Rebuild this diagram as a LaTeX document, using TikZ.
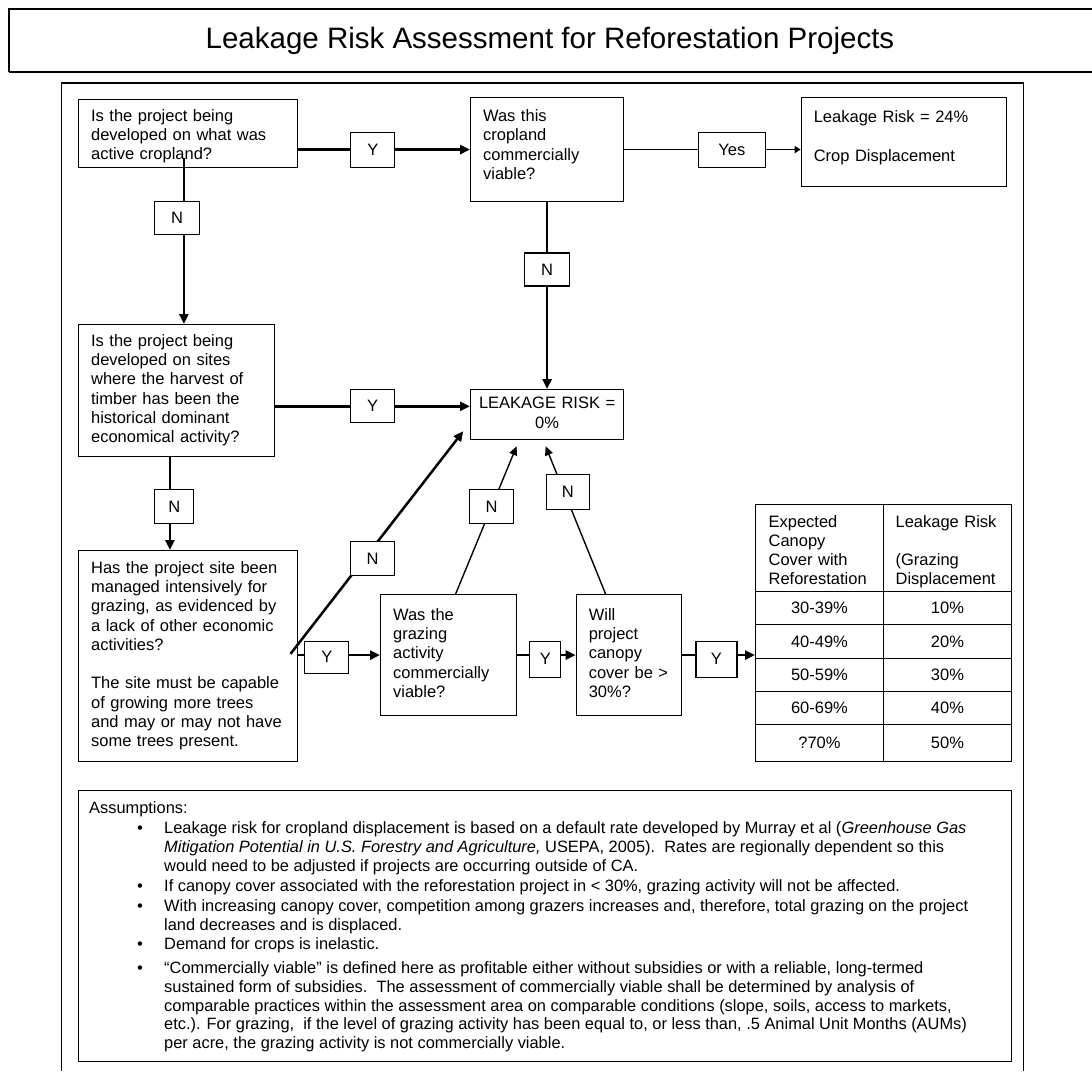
\documentclass[tikz,border=0pt]{standalone}
\usepackage{fontspec}
\setmainfont{Liberation Sans}
\usetikzlibrary{arrows.meta,calc}
\newcommand\bxfont{\fontsize{16.5}{19.3}\selectfont}
\newcommand\asfont{\fontsize{16.4}{18.9}\selectfont}
\begin{document}
\begin{tikzpicture}[x=1pt,y=-1pt,
  box/.style={draw,line width=1.2pt,anchor=north west,inner xsep=12.5pt,inner ysep=0pt,align=left,font=\bxfont},
  cell/.style={draw,line width=1.2pt,anchor=north west,inner sep=0pt,font=\bxfont},
  lbl/.style={draw,fill=white,line width=1.2pt,inner sep=0pt,font=\bxfont},
  thk/.style={line width=2.5pt,-{Triangle[length=10pt,width=9pt]}},
  thn/.style={line width=1.4pt,-{Triangle[length=9pt,width=8pt]}},
  asl/.style={anchor=base west,inner sep=0pt,font=\asfont},
  asb/.style={anchor=north west,inner sep=0pt,align=left,font=\asfont},
  bul/.style={anchor=base,inner sep=0pt,font=\asfont},
]
\useasboundingbox (0,0) rectangle (1092,1071);

% title
\draw[line width=1.2pt] (1092,9) -- (9,9) -- (9,72);
\draw[line width=2.4pt] (9,72) -- (1092,72);
\node[font=\fontsize{29.5}{35}\selectfont] (title) at (550,41) {Leakage Risk Assessment for Reforestation Projects};

% inner frame
\draw[line width=1.2pt] (61.5,1071) -- (61.5,83) -- (1023.3,83) -- (1023.3,1071);

% boxes
\node[box,minimum width=219pt,minimum height=68pt,text width=194pt] (b1) at (78,99)
  {\rule{0pt}{19.5pt}Is the project being\\developed on what was\\active cropland?\strut};
\node[box,minimum width=153pt,minimum height=104pt,text width=128pt] (cv) at (470,97)
  {\strut Was this\\cropland\\commercially\\viable?\strut\\[-7.5pt]\mbox{}};
\node[box,minimum width=205.3pt,minimum height=89pt,text width=180.3pt] (cr) at (800.7,97)
  {\strut Leakage Risk = 24\%\\[19.3pt]Crop Displacement\strut\\[-5pt]\mbox{}};
\node[box,minimum width=196pt,minimum height=132pt,text width=171pt] (b2) at (78,324)
  {\strut Is the project being\\developed on sites\\where the harvest of\\timber has been the\\historical dominant\\economical activity?\strut};
\node[box,minimum width=153pt,minimum height=50pt,text width=149pt,inner xsep=2pt,align=center] (lk) at (470,389)
  {\strut LEAKAGE RISK =\\0\%\strut};
\node[box,minimum width=219pt,minimum height=211pt,text width=194pt] (b3) at (78,550)
  {\strut Has the project site been\\managed intensively for\\grazing, as evidenced by\\a lack of other economic\\activities?\\[19.3pt]The site must be capable\\of growing more trees\\and may or may not have\\some trees present.\strut};
\node[box,minimum width=136pt,minimum height=121pt,text width=111pt] (gz) at (380,594)
  {\strut Was the\\grazing\\activity\\commercially\\viable?\strut};
\node[box,minimum width=105.3pt,minimum height=121pt,text width=80.3pt] (cn) at (575.7,594)
  {\strut Will\\project\\canopy\\cover be >\\30\%?\strut};

% table
\node[cell,minimum width=127.7pt,minimum height=87pt,text width=101.7pt,inner xsep=13pt,align=left] (h1) at (755,504)
  {\rule{0pt}{21.5pt}Expected\\Canopy\\Cover with\\Reforestation\strut};
\node[cell,minimum width=128.3pt,minimum height=87pt,text width=103.7pt,inner xsep=12.3pt,align=left] (h2) at (882.7,504)
  {\rule{0pt}{21.5pt}Leakage Risk\\[19.3pt](Grazing\\Displacement\strut};
\node[cell,minimum width=127.7pt,minimum height=33pt] (r1a) at (755,591) {30-39\%};
\node[cell,minimum width=128.3pt,minimum height=33pt] (r1b) at (882.7,591) {10\%};
\node[cell,minimum width=127.7pt,minimum height=34pt] (r2a) at (755,624) {40-49\%};
\node[cell,minimum width=128.3pt,minimum height=34pt] (r2b) at (882.7,624) {20\%};
\node[cell,minimum width=127.7pt,minimum height=33pt] (r3a) at (755,658) {50-59\%};
\node[cell,minimum width=128.3pt,minimum height=33pt] (r3b) at (882.7,658) {30\%};
\node[cell,minimum width=127.7pt,minimum height=33pt] (r4a) at (755,691) {60-69\%};
\node[cell,minimum width=128.3pt,minimum height=33pt] (r4b) at (882.7,691) {40\%};
\node[cell,minimum width=127.7pt,minimum height=37pt] (r5a) at (755,724) {?70\%};
\node[cell,minimum width=128.3pt,minimum height=37pt] (r5b) at (882.7,724) {50\%};

% connectors
\draw[thk] ($(b1.east)+(0,16)$) coordinate (y1s) -- (y1s -| cv.west)
  node[lbl,pos=0.434,minimum width=44pt,minimum height=35pt] (ly1) {Y};
\draw[line width=1.3pt,-{Triangle[length=6pt,width=7pt]}] (cv.east) -- (cv.east -| cr.west)
  node[lbl,pos=0.61,minimum width=67pt,minimum height=35pt] (lyes) {Yes};
\draw[thk] ($(b1.south)+(-4.2,-10)$) coordinate (n1s) -- (n1s |- b2.north)
  node[lbl,pos=0.361,xshift=-6.8pt,minimum width=45pt,minimum height=33pt] (ln1) {N};
\draw[thk] (cv.south) -- (lk.north)
  node[lbl,pos=0.36,minimum width=45pt,minimum height=33pt] (ln2) {N};
\draw[thk] ($(b2.east)+(0,15.7)$) coordinate (y2s) -- (y2s -| lk.west)
  node[lbl,pos=0.5,minimum width=44pt,minimum height=33pt] (ly2) {Y};
\draw[thk] ($(b2.south)+(-6.7,0)$) coordinate (n2s) -- (n2s |- b3.north)
  node[lbl,pos=0.53,xshift=4.4pt,minimum width=39pt,minimum height=34pt] (ln3) {N};
\draw[thk] (b3.east |- gz.west) -- (gz.west)
  node[lbl,pos=0.35,yshift=-2pt,minimum width=44pt,minimum height=32pt] (ly3) {Y};
\draw[thk] ($(b3.east)+(-7.7,-2.2)$) -- ($(lk.south west)+(-6.7,-9)$)
  node[lbl,pos=0.427,xshift=8.4pt,minimum width=44pt,minimum height=34pt] (ln4) {N};
\draw[thn] ($(gz.north)+(7,0)$) -- ($(lk.south)+(-30.5,6)$)
  node[lbl,pos=0.59,minimum width=44pt,minimum height=34pt] (ln5) {N};
\draw[thn] ($(cn.north)+(-23.35,0)$) -- ($(lk.south)+(-1.5,6)$)
  node[lbl,pos=0.69,xshift=3.6pt,minimum width=42.6pt,minimum height=35pt] (ln6) {N};
\draw[thk] (gz.east) -- (gz.east -| cn.west)
  node[lbl,pos=0.48,yshift=-4pt,minimum width=31pt,minimum height=36pt] (ly4) {Y};
\draw[thk] (cn.east) -- (cn.east -| h1.west)
  node[lbl,pos=0.47,yshift=-4pt,minimum width=41pt,minimum height=36pt] (ly5) {Y};

% assumptions
\node[draw,line width=1.2pt,anchor=north west,minimum width=933pt,minimum height=270.7pt,inner sep=0pt] (abox) at (78,790) {};
\node[asl] (a0) at (89,813) {Assumptions:};
\node[bul] (d1) at (140,833) {•};
\node[bul] (d2) at (140,891) {•};
\node[bul] (d3) at (140,911) {•};
\node[bul] (d4) at (140,949.5) {•};
\node[bul] (d5) at (140,973) {•};
\node[asb] (a1) at (164,819.8) {\strut Leakage risk for cropland displacement is based on a default rate developed by Murray et al (\textit{Greenhouse Gas}\\\textit{Mitigation Potential in U.S. Forestry and Agriculture,} USEPA, 2005).\ \ Rates are regionally dependent so this\\would need to be adjusted if projects are occurring outside of CA.};
\node[asb] (a2) at (164,877.8) {\strut If canopy cover associated with the reforestation project in < 30\%, grazing activity will not be affected.};
\node[asb] (a3) at (164,897.8) {\strut With increasing canopy cover, competition among grazers increases and, therefore, total grazing on the project\\land decreases and is displaced.};
\node[asb] (a4) at (164,936.3) {\strut Demand for crops is inelastic.};
\node[asb] (a5) at (164,959.8) {\strut “Commercially viable” is defined here as profitable either without subsidies or with a reliable, long-termed\\sustained form of subsidies.\ \ The assessment of commercially viable shall be determined by analysis of\\comparable practices within the assessment area on comparable conditions (slope, soils, access to markets,\\etc.). For grazing,\ \ if the level of grazing activity has been equal to, or less than, .5 Animal Unit Months (AUMs)\\per acre, the grazing activity is not commercially viable.};
\end{tikzpicture}
\end{document}
